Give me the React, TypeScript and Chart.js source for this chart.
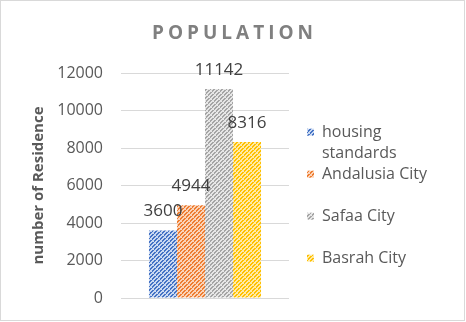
import React, { useEffect, useRef } from 'react';
import { Chart, registerables } from 'chart.js';

Chart.register(...registerables);

const categories = [''];
const seriesNames = ['housing standards', 'Andalusia City', 'Safaa City', 'Basrah City'];
const legendLines = [['housing', 'standards'], ['Andalusia City', ''], ['Safaa City', ''], ['Basrah City', '']];
const seriesValues = [3600, 4944, 11142, 8316];
const strokeColors = ['#4472C4', '#ED7D31', '#A5A5A5', '#FFC000'];
const fillColors = ['#c9d8f1', '#fbd3b8', '#e6e6e6', '#ffeaa6'];
const yMin = 0;
const yMax = 12000;
const yStep = 2000;
const chartTitle = 'POPULATION';
const yAxisTitle = 'number of Residence';

const FONT = "'Open Sans', 'DejaVu Sans', sans-serif";

function makePattern(ctx: CanvasRenderingContext2D, bg: string, fg: string) {
  const size = 8;
  const c = document.createElement('canvas');
  c.width = size;
  c.height = size;
  const p = c.getContext('2d')!;
  p.fillStyle = bg;
  p.fillRect(0, 0, size, size);
  p.fillStyle = fg;
  for (let x = 0; x < size; x++) {
    for (let y = 0; y < size; y++) {
      const onStripe = (x + y) % 4 < 2;
      const gap = (x - y + 64) % 8 === 0;
      if (onStripe && !gap) p.fillRect(x, y, 1, 1);
    }
  }
  return ctx.createPattern(c, 'repeat') as CanvasPattern;
}

const titlePlugin = {
  id: 'spacedTitle',
  afterDraw(chart: any) {
    const ctx = chart.ctx as CanvasRenderingContext2D;
    ctx.save();
    ctx.font = `bold 19px ${FONT}`;
    (ctx as any).letterSpacing = '4px';
    ctx.fillStyle = '#808080';
    ctx.textBaseline = 'middle';
    ctx.textAlign = 'left';
    const w = ctx.measureText(chartTitle).width - 4;
    ctx.fillText(chartTitle, chart.width / 2 - w / 2, 33);
    ctx.restore();
  },
};

const valueLabelPlugin = {
  id: 'valueLabels',
  afterDatasetsDraw(chart: any) {
    const ctx = chart.ctx as CanvasRenderingContext2D;
    ctx.save();
    ctx.font = `17px ${FONT}`;
    ctx.fillStyle = '#404040';
    ctx.textAlign = 'center';
    ctx.textBaseline = 'middle';
    chart.data.datasets.forEach((ds: any, i: number) => {
      const meta = chart.getDatasetMeta(i);
      meta.data.forEach((el: any, j: number) => {
        ctx.fillText(String(ds.data[j]), el.x, el.y - 19);
      });
    });
    ctx.restore();
  },
};

export default function App() {
  const ref = useRef<HTMLCanvasElement | null>(null);

  useEffect(() => {
    const canvas = ref.current!;
    const ctx = canvas.getContext('2d')!;
    const patterns = strokeColors.map((c, i) => makePattern(ctx, fillColors[i], c));

    const chart = new Chart(canvas, {
      type: 'bar',
      data: {
        labels: categories,
        datasets: seriesNames.map((name, i) => ({
          label: name,
          data: [seriesValues[i]],
          backgroundColor: patterns[i],
          borderWidth: 0,
          categoryPercentage: 0.667,
          barPercentage: 1,
        })),
      },
      options: {
        responsive: false,
        animation: false,
        layout: { padding: { top: 72, bottom: 22, left: 0, right: 27 } },
        plugins: {
          title: { display: false },
          tooltip: { enabled: false },
          legend: {
            display: true,
            position: 'right',
            align: 'start',
            maxWidth: 220,
            title: { display: true, text: '', padding: { top: 50, bottom: 0 }, font: { size: 1 } },
            labels: {
              boxWidth: 7,
              boxHeight: 7,
              padding: 0,
              color: '#595959',
              font: { family: FONT, size: 16, lineHeight: 1.3125 },
              generateLabels: (ch: any) =>
                ch.data.datasets.map((ds: any, i: number) => ({
                  text: legendLines[i],
                  fillStyle: patterns[i],
                  strokeStyle: patterns[i],
                  lineWidth: 0,
                  hidden: false,
                  datasetIndex: i,
                  fontColor: '#595959',
                })),
            },
          },
        },
        scales: {
          x: {
            display: false,
            grid: { display: false },
          },
          y: {
            min: yMin,
            max: yMax,
            afterFit: (scale: any) => {
              scale.width = 120;
            },
            ticks: {
              stepSize: yStep,
              padding: 0,
              color: '#595959',
              font: { family: FONT, size: 16 },
              callback: (v: any) => String(v),
            },
            grid: { color: '#d9d9d9', lineWidth: 1, drawTicks: true, tickLength: 18, tickColor: 'rgba(0,0,0,0)' },
            border: { display: false },
            title: {
              display: true,
              text: yAxisTitle,
              color: '#595959',
              font: { family: FONT, size: 15, weight: 'bold' },
              padding: { top: 29, bottom: 0 },
            },
          },
          gap: {
            type: 'linear',
            position: 'right',
            display: true,
            afterFit: (scale: any) => {
              scale.width = 18;
            },
            ticks: { display: false },
            grid: { display: false, drawOnChartArea: false },
            border: { display: false },
          },
        },
      },
      plugins: [titlePlugin, valueLabelPlugin],
    } as any);

    return () => chart.destroy();
  }, []);

  return (
    <div
      style={{
        position: 'absolute',
        left: 0,
        top: 0,
        width: 465,
        height: 321,
        boxSizing: 'border-box',
        border: '1px solid #d9d9d9',
        background: '#ffffff',
      }}
    >
      <canvas ref={ref} width={463} height={319} style={{ display: 'block' }} />
    </div>
  );
}
